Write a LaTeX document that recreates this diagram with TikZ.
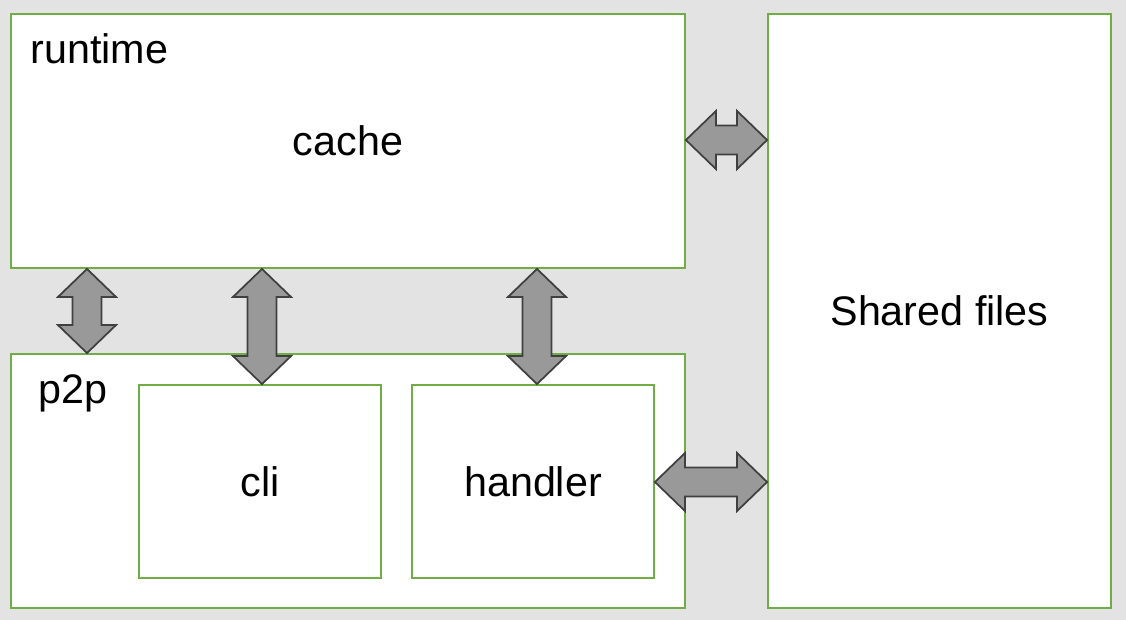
\documentclass[tikz,border=0pt]{standalone}
\usepackage{fontspec}
\setmainfont{Liberation Sans}
\usetikzlibrary{calc}

\definecolor{bggray}{RGB}{227,227,227}
\definecolor{boxgreen}{RGB}{112,173,71}
\definecolor{arrowfill}{RGB}{153,153,153}
\definecolor{arrowline}{RGB}{64,64,64}

\tikzset{
	box/.style={draw=boxgreen,line width=1.1pt,fill=white,inner sep=0pt,
		font=\fontsize{23.5}{28}\selectfont,text height=22pt,text depth=5pt},
	lbl/.style={inner sep=0pt,font=\fontsize{23.5}{28}\selectfont},
	blk/.style={fill=arrowfill,draw=arrowline,line width=1pt,line join=miter}
}

% block arrows with two heads, 1 unit = 1 px of the picture
\newcommand{\harrow}[2]{\filldraw[blk] (#1) -- ++(30,-29) -- ++(0,14.5) -- ($(#2)+(-30,-14.5)$) -- ++(0,-14.5) -- (#2) -- ++(-30,29) -- ++(0,-14.5) -- ($(#1)+(30,14.5)$) -- ++(0,14.5) -- cycle;}
\newcommand{\varrow}[2]{\filldraw[blk] (#1) -- ++(29,28) -- ++(-14.5,0) -- ($(#2)+(14.5,-28)$) -- ++(14.5,0) -- (#2) -- ++(-29,-28) -- ++(14.5,0) -- ($(#1)+(-14.5,28)$) -- ++(-14.5,0) -- cycle;}

\begin{document}
\begin{tikzpicture}[x=0.02cm,y=-0.02cm]

\fill[bggray] (0,0) rectangle (1126,620);
\useasboundingbox (0,0) rectangle (1126,620);

\node[box,minimum width=13.48cm,minimum height=5.08cm] (runtime) at (348,141) {cache};
\node[box,minimum width=6.86cm,minimum height=11.88cm] (shared) at (939.5,311) {Shared files};
\node[box,minimum width=13.48cm,minimum height=5.08cm] (p2p) at (348,481) {};
\node[box,minimum width=4.84cm,minimum height=3.86cm] (cli) at (260,481.5) {cli};
\node[box,minimum width=4.84cm,minimum height=3.86cm] (handler) at (533,481.5) {handler};

\node[lbl,anchor=base west] (rtlabel) at (30,63) {runtime};
\node[lbl,anchor=base west] (p2plabel) at (38,403) {p2p};

\coordinate (rs) at (runtime.east |- 0,140);
\coordinate (sr) at (shared.west |- 0,140);
\coordinate (hs) at (handler.east |- 0,482);
\coordinate (sh) at (shared.west |- 0,482);
\coordinate (rp) at (runtime.south -| 87,0);
\coordinate (pr) at (p2p.north -| 87,0);
\coordinate (rc) at (runtime.south -| 262,0);
\coordinate (cr) at (cli.north -| 262,0);
\coordinate (rh) at (runtime.south -| 537,0);
\coordinate (hr) at (handler.north -| 537,0);

\harrow{rs}{sr}
\harrow{hs}{sh}
\varrow{rp}{pr}
\varrow{rc}{cr}
\varrow{rh}{hr}

\end{tikzpicture}
\end{document}
